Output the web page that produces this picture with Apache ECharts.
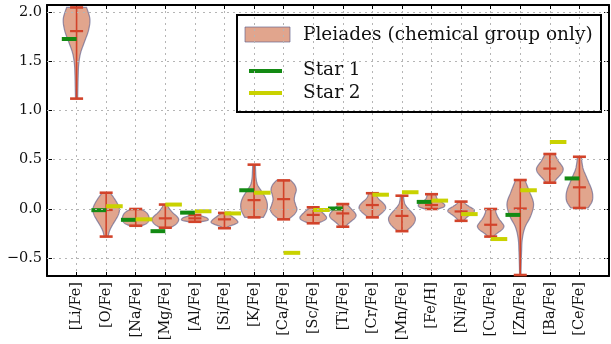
<!DOCTYPE html>
<html>
<head>
<meta charset="utf-8">
<script src="https://cdn.jsdelivr.net/npm/echarts@6/dist/echarts.min.js"></script>
<style>
  html, body { margin: 0; padding: 0; background: #fff; }
  #chart { width: 611px; height: 344px; }
</style>
</head>
<body>
<div id="chart"></div>
<script>
// Abundance ratios, one violin per element
const categories = ['[Li/Fe]', '[O/Fe]', '[Na/Fe]', '[Mg/Fe]', '[Al/Fe]', '[Si/Fe]', '[K/Fe]', '[Ca/Fe]', '[Sc/Fe]',
  '[Ti/Fe]', '[Cr/Fe]', '[Mn/Fe]', '[Fe/H]', '[Ni/Fe]', '[Cu/Fe]', '[Zn/Fe]', '[Ba/Fe]', '[Ce/Fe]'];

// Pleiades distribution: extremes and median
const mins    = [1.12, -0.28, -0.17, -0.19, -0.13, -0.195, -0.085, -0.105, -0.145, -0.18, -0.085, -0.225, 0.0, -0.12, -0.28, -0.67, 0.267, 0.01];
const maxs    = [2.045, 0.165, 0.0, 0.045, -0.06, -0.04, 0.45, 0.29, 0.017, 0.05, 0.16, 0.135, 0.15, 0.075, 0.0, 0.294, 0.558, 0.53];
const medians = [1.805, -0.01, -0.105, -0.095, -0.095, -0.105, 0.09, 0.1, -0.06, -0.045, 0.04, -0.07, 0.04, -0.025, -0.16, 0.005, 0.41, 0.22];

// Relative density (0..1) sampled evenly from min to max for each violin
const violinWidths = [
  [0.08, 0.1, 0.12, 0.16, 0.3, 0.6, 0.9, 1.0, 0.75],
  [0.15, 0.25, 0.45, 0.7, 0.92, 1.0, 0.85, 0.6, 0.3],
  [0.45, 0.8, 0.95, 1.0, 1.0, 0.95, 0.85, 0.65, 0.35],
  [0.4, 0.75, 0.95, 1.0, 0.85, 0.6, 0.4, 0.25, 0.15],
  [0.4, 0.8, 1.0, 1.0, 0.95, 0.85, 0.65, 0.45, 0.25],
  [0.12, 0.35, 0.75, 1.0, 0.95, 0.8, 0.6, 0.4, 0.2],
  [0.7, 0.95, 1.0, 0.85, 0.55, 0.25, 0.15, 0.12, 0.1],
  [0.35, 0.8, 1.0, 0.9, 0.8, 0.85, 0.95, 0.85, 0.55],
  [0.3, 0.7, 0.95, 1.0, 0.9, 0.75, 0.6, 0.4, 0.2],
  [0.2, 0.4, 0.65, 0.9, 1.0, 0.9, 0.7, 0.5, 0.3],
  [0.3, 0.6, 0.85, 1.0, 0.95, 0.75, 0.5, 0.35, 0.3],
  [0.3, 0.7, 0.95, 1.0, 0.8, 0.5, 0.25, 0.15, 0.12],
  [0.5, 0.9, 1.0, 0.9, 0.7, 0.5, 0.4, 0.35, 0.3],
  [0.2, 0.35, 0.55, 0.8, 1.0, 0.9, 0.6, 0.35, 0.2],
  [0.2, 0.5, 0.85, 1.0, 0.85, 0.65, 0.5, 0.4, 0.35],
  [0.05, 0.07, 0.1, 0.15, 0.35, 0.8, 1.0, 0.7, 0.35],
  [0.3, 0.5, 0.75, 0.95, 1.0, 0.85, 0.65, 0.5, 0.35],
  [0.65, 0.95, 1.0, 0.9, 0.7, 0.5, 0.3, 0.2, 0.15]
];

// Individual stars (null = not measured)
const star1 = [1.725, -0.012, -0.11, -0.225, -0.037, null, 0.19, null, null, 0.005, null, null, 0.072, null, null, -0.06, null, 0.31];
const star2 = [null, 0.028, -0.105, 0.045, -0.023, -0.045, 0.165, -0.445, -0.01, null, 0.145, 0.17, 0.085, -0.052, -0.305, 0.19, 0.68, null];

const yTicks = [-0.5, 0.0, 0.5, 1.0, 1.5, 2.0];
const yMin = -0.68, yMax = 2.07;

const FILL = 'rgba(205,105,65,0.6)';
const EDGE = 'rgba(95,95,140,0.65)';
const RED = '#d2432a';
const GREEN = '#138a13';
const YELLOW = '#c9d200';
const HALF = 0.45;      // max half width of a violin, in category units
const CAP = 0.22;       // half length of extreme / median bars
const FONT = 'DejaVu Serif';

const violinData = categories.map((c, i) => [i, mins[i], maxs[i], medians[i]]);

// Smooth outline through the given pixel points (Catmull-Rom), for drawing only
function smoothOutline(pts, steps) {
  const out = [];
  const n = pts.length;
  for (let k = 0; k < n - 1; k++) {
    const p0 = pts[Math.max(k - 1, 0)], p1 = pts[k], p2 = pts[k + 1], p3 = pts[Math.min(k + 2, n - 1)];
    for (let s = 0; s < steps; s++) {
      const t = s / steps, t2 = t * t, t3 = t2 * t;
      const f = (a, b, c, d) => 0.5 * (2 * b + (-a + c) * t + (2 * a - 5 * b + 4 * c - d) * t2 + (-a + 3 * b - 3 * c + d) * t3);
      out.push([f(p0[0], p1[0], p2[0], p3[0]), f(p0[1], p1[1], p2[1], p3[1])]);
    }
  }
  out.push(pts[n - 1]);
  return out;
}

function renderViolin(params, api) {
  const i = api.value(0);
  const x = i + 1;
  const lo = api.value(1), hi = api.value(2), med = api.value(3);
  const prof = violinWidths[i];
  const n = prof.length;
  const right = [], left = [];
  for (let k = 0; k < n; k++) {
    const y = lo + (hi - lo) * k / (n - 1);
    right.push(api.coord([x + prof[k] * HALF, y]));
    left.push(api.coord([x - prof[k] * HALF, y]));
  }
  const pts = smoothOutline(right, 8).concat(smoothOutline(left, 8).reverse());
  const seg = (x1, y1, x2, y2, w) => {
    const a = api.coord([x1, y1]), b = api.coord([x2, y2]);
    return { type: 'line', shape: { x1: a[0], y1: a[1], x2: b[0], y2: b[1] },
      style: { stroke: RED, lineWidth: w }, z2: 5 };
  };
  return {
    type: 'group',
    children: [
      { type: 'polygon', shape: { points: pts },
        style: { fill: FILL, stroke: EDGE, lineWidth: 1.2 } },
      seg(x, lo, x, hi, 1.6),
      seg(x - CAP, lo, x + CAP, lo, 2.6),
      seg(x - CAP, hi, x + CAP, hi, 2.6),
      seg(x - CAP, med, x + CAP, med, 2.2)
    ]
  };
}

function starRenderer(color, from, to) {
  return function (params, api) {
    const x = api.value(0) + 1;
    const v = api.value(1);
    const a = api.coord([x + from, v]), b = api.coord([x + to, v]);
    return { type: 'line', shape: { x1: a[0], y1: a[1], x2: b[0], y2: b[1] },
      style: { stroke: color, lineWidth: 4 } };
  };
}

const starData = arr => arr.map((v, i) => [i, v]).filter(d => d[1] !== null);

const fmtY = v => (v < 0 ? '\u2212' + Math.abs(v).toFixed(1) : v.toFixed(1));

const chart = echarts.init(document.getElementById('chart'), null, { renderer: 'canvas' });

const axisLine = { show: true, onZero: false, lineStyle: { color: '#000', width: 2 } };
const grid = { left: 47, right: 2, top: 5, bottom: 68 };

chart.setOption({
  animation: false,
  backgroundColor: '#fff',
  grid: grid,
  xAxis: [
    {
      type: 'value', min: 0, max: categories.length + 1, interval: 1, position: 'bottom',
      axisLine: axisLine,
      axisTick: { show: true, inside: true, length: 4, lineStyle: { color: '#000', width: 1 } },
      axisLabel: {
        rotate: 90, margin: 6, fontFamily: FONT, fontSize: 14.5, color: '#111',
        formatter: v => (v >= 1 && v <= categories.length ? categories[v - 1] : '')
      },
      splitLine: { show: true, lineStyle: { color: '#b5b5b5', type: [2, 4], width: 1 } }
    },
    {
      type: 'value', min: 0, max: categories.length + 1, interval: 1, position: 'top',
      axisLine: axisLine,
      axisTick: { show: true, inside: true, length: 4, lineStyle: { color: '#000', width: 1 } },
      axisLabel: { show: false },
      splitLine: { show: false }
    }
  ],
  yAxis: [
    {
      type: 'value', min: yMin, max: yMax, position: 'left',
      axisLine: axisLine,
      axisTick: { show: true, inside: true, length: 5, customValues: yTicks, lineStyle: { color: '#000', width: 1 } },
      axisLabel: { customValues: yTicks, formatter: fmtY, fontFamily: FONT, fontSize: 14.5, color: '#111', margin: 5 },
      splitLine: { show: false }
    },
    {
      type: 'value', min: yMin, max: yMax, position: 'right',
      axisLine: axisLine,
      axisTick: { show: true, inside: true, length: 5, customValues: yTicks, lineStyle: { color: '#000', width: 1 } },
      axisLabel: { show: false },
      splitLine: { show: false }
    }
  ],
  series: [
    {
      // horizontal dotted grid at the labelled values
      type: 'line', data: [], z: 1, silent: true,
      markLine: {
        silent: true, symbol: ['none', 'none'], label: { show: false },
        lineStyle: { color: '#b5b5b5', type: [2, 4], width: 1 },
        data: yTicks.map(v => ({ yAxis: v }))
      }
    },
    {
      name: 'Pleiades (chemical group only)', type: 'custom', z: 3,
      renderItem: renderViolin, data: violinData,
      encode: { x: 0, y: [1, 2] }
    },
    {
      name: 'Star 1', type: 'custom', z: 4,
      renderItem: starRenderer(GREEN, -0.5, 0), data: starData(star1),
      encode: { x: 0, y: 1 }
    },
    {
      name: 'Star 2', type: 'custom', z: 4,
      renderItem: starRenderer(YELLOW, 0, 0.56), data: starData(star2),
      encode: { x: 0, y: 1 }
    }
  ],
  graphic: [
    {
      type: 'group', z: 100,
      children: [
        { type: 'rect', shape: { x: 237, y: 15, width: 364, height: 97 },
          style: { fill: '#fff', stroke: '#000', lineWidth: 2 } },
        { type: 'rect', shape: { x: 245, y: 27, width: 45, height: 15 },
          style: { fill: FILL, stroke: EDGE, lineWidth: 1 } },
        { type: 'line', shape: { x1: 249, y1: 71, x2: 282, y2: 71 },
          style: { stroke: GREEN, lineWidth: 4 } },
        { type: 'line', shape: { x1: 249, y1: 93, x2: 282, y2: 93 },
          style: { stroke: YELLOW, lineWidth: 4 } },
        { type: 'text', x: 303, y: 35,
          style: { text: 'Pleiades (chemical group only)', font: '18.5px "DejaVu Serif"', fill: '#111', verticalAlign: 'middle' } },
        { type: 'text', x: 303, y: 70,
          style: { text: 'Star 1', font: '18.5px "DejaVu Serif"', fill: '#111', verticalAlign: 'middle' } },
        { type: 'text', x: 303, y: 93,
          style: { text: 'Star 2', font: '18.5px "DejaVu Serif"', fill: '#111', verticalAlign: 'middle' } }
      ]
    }
  ]
});
</script>
</body>
</html>
